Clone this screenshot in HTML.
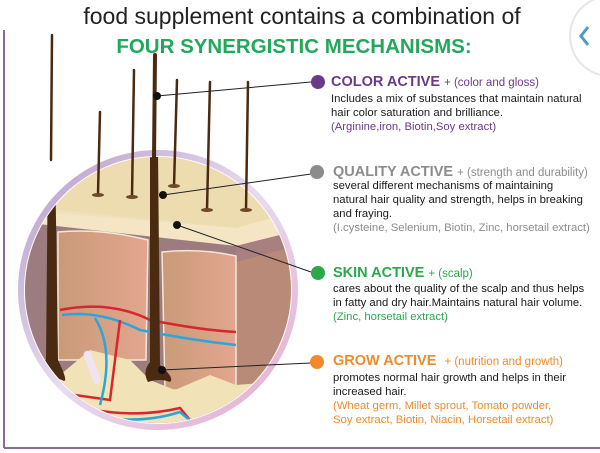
<!DOCTYPE html>
<html><head><meta charset="utf-8"><style>
body{margin:0;width:600px;height:453px;overflow:hidden;background:#fff;font-family:"Liberation Sans",sans-serif;position:relative}
.t{position:absolute;white-space:nowrap}
.b{font-size:11.3px;color:#1a1a1a;line-height:14px}
</style></head><body>
<svg width="600" height="453" style="position:absolute;left:0;top:0">
<defs>
<clipPath id="c"><circle cx="158" cy="290" r="133"/></clipPath>
<linearGradient id="rim" x1="0" y1="0" x2="1" y2="1"><stop offset="0" stop-color="#b79ac8"/><stop offset="0.5" stop-color="#e7dcef"/><stop offset="1" stop-color="#e6a9cf"/></linearGradient>
<linearGradient id="derm" x1="0" y1="0" x2="1" y2="0"><stop offset="0" stop-color="#c99a78"/><stop offset="1" stop-color="#e3a690"/></linearGradient>
</defs>
<line x1="4" y1="30" x2="4" y2="448" stroke="#8a6a9a" stroke-width="2"/>
<line x1="4" y1="448" x2="600" y2="448" stroke="#8a6a9a" stroke-width="2"/>
<circle cx="610" cy="36" r="40" fill="#fff" stroke="#e6e6e6" stroke-width="2"/>
<path d="M588 27 L581 36 L588 45" fill="none" stroke="#4a9cc0" stroke-width="3"/>
<circle cx="158" cy="290" r="140" fill="url(#rim)"/>
<circle cx="158" cy="290" r="134" fill="#fff"/>
<g clip-path="url(#c)">
<rect x="20" y="150" width="280" height="290" fill="#efe1b8"/>
<path d="M20 150 L300 150 L300 215 L236 228 L40 208 Z" fill="#eddcb0"/>
<path d="M20 210 L236 228 L300 210 L300 230 L236 246 L20 222 Z" fill="#f4e6c4"/>
<path d="M20 222 L236 246 L236 440 L20 440 Z" fill="#9d7c80"/>
<path d="M236 246 L300 230 L300 440 L236 440 Z" fill="#b98a78"/>
<path d="M236 246 L300 230 L300 245 L236 262 Z" fill="#a88080"/>
<path d="M58 232 Q100 228 148 240 L146 360 L58 360 Z" fill="url(#derm)" stroke="#f5e8d8" stroke-width="1.5"/>
<path d="M162 252 Q200 248 236 256 L236 390 L165 390 Z" fill="url(#derm)" stroke="#f5e8d8" stroke-width="1.5"/>
<path d="M20 380 L60 375 L90 350 L130 360 L150 380 L175 390 L210 375 L236 385 L300 380 L300 440 L20 440 Z" fill="#f2e2b8"/>
<path d="M60 310 Q110 300 150 320 Q200 330 236 332" fill="none" stroke="#d8262e" stroke-width="2.5"/>
<path d="M62 315 Q100 310 140 330 Q190 340 236 345" fill="none" stroke="#2aa6d8" stroke-width="2.5"/>
<path d="M120 320 L110 400 L75 395" fill="none" stroke="#d8262e" stroke-width="2.5"/>
<path d="M95 318 Q115 350 100 405" fill="none" stroke="#2aa6d8" stroke-width="2.5"/>
<path d="M70 405 Q130 420 180 408 Q190 420 200 432" fill="none" stroke="#d8262e" stroke-width="2.5"/>
<path d="M70 410 Q130 428 180 412 Q195 425 205 430" fill="none" stroke="#2aa6d8" stroke-width="2.5"/>
<path d="M48 150 L55 150 L58 360 Q70 385 62 380 Q50 375 42 380 Q38 370 46 360 Z" fill="#4a2a10"/>
<path d="M150 150 L158 150 L160 365 Q175 378 170 382 Q160 378 148 382 Q142 372 150 362 Z" fill="#4a2a10"/>
<rect x="88" y="350" width="8" height="35" rx="4" fill="#f0e4ee" transform="rotate(-20 92 367)"/>
</g>
<g stroke="#4a2a10" stroke-linecap="round">
<path d="M52 35 L51 160" stroke-width="2.5"/>
<path d="M155 55 L154 160" stroke-width="4"/>
<path d="M100 112 L98 194" stroke-width="2.5"/>
<path d="M134 70 L132 197" stroke-width="2.5"/>
<path d="M177 80 L174 186" stroke-width="2.5"/>
<path d="M210 82 L207 210" stroke-width="2.5"/>
<path d="M248 82 L246 210" stroke-width="2.5"/>
</g>
<g fill="#6e4a2a"><ellipse cx="98" cy="195" rx="6" ry="2"/><ellipse cx="132" cy="197" rx="6" ry="2"/><ellipse cx="174" cy="186" rx="6" ry="2"/><ellipse cx="207" cy="210" rx="6" ry="2"/><ellipse cx="246" cy="210" rx="6" ry="2"/></g>
<g stroke="#222" stroke-width="1"><line x1="157" y1="96" x2="311" y2="82"/><line x1="163" y1="195" x2="311" y2="174"/><line x1="177" y1="225" x2="311" y2="272"/><line x1="162" y1="370" x2="311" y2="363"/></g>
<g fill="#111"><circle cx="157" cy="96" r="4"/><circle cx="163" cy="195" r="4"/><circle cx="177" cy="225" r="4"/><circle cx="162" cy="370" r="4"/></g>
<circle cx="318" cy="82" r="7" fill="#6a3a8a"/>
<circle cx="317" cy="172" r="7" fill="#8c8c8c"/>
<circle cx="318" cy="273" r="7" fill="#2aa84a"/>
<circle cx="317" cy="362" r="7" fill="#f08a2a"/>
</svg>
<div class="t" style="left:0;width:604px;text-align:center;top:3px;font-size:23px;color:#222">food supplement contains a combination of</div>
<div class="t" style="left:0;width:588px;text-align:center;top:35px;font-size:20.5px;font-weight:bold;color:#22a85a">FOUR SYNERGISTIC MECHANISMS:</div>

<div class="t" style="left:331px;top:74px;font-size:14.5px;font-weight:bold;color:#6a3a8a">COLOR ACTIVE <span style="font-size:11.5px;font-weight:normal">+ (color and gloss)</span></div>
<div class="t b" style="left:331px;top:92px">Includes a mix of substances that maintain natural<br>hair color saturation and brilliance.<br><span style="color:#6a3a8a">(Arginine,iron, Biotin,Soy extract)</span></div>

<div class="t" style="left:333px;top:164px;font-size:14.5px;font-weight:bold;color:#8c8c8c">QUALITY ACTIVE <span style="font-size:11.5px;font-weight:normal">+ (strength and durability)</span></div>
<div class="t b" style="left:333px;top:179px">several different mechanisms of maintaining<br>natural hair quality and strength, helps in breaking<br>and fraying.<br><span style="color:#8c8c8c">(I.cysteine, Selenium, Biotin, Zinc, horsetail extract)</span></div>

<div class="t" style="left:333px;top:265px;font-size:14.5px;font-weight:bold;color:#2aa84a">SKIN ACTIVE <span style="font-size:11.5px;font-weight:normal">+ (scalp)</span></div>
<div class="t b" style="left:333px;top:282px">cares about the quality of the scalp and thus helps<br>in fatty and dry hair.Maintains natural hair volume.<br><span style="color:#2aa84a">(Zinc, horsetail extract)</span></div>

<div class="t" style="left:333px;top:353px;font-size:14.5px;font-weight:bold;color:#f08a2a">GROW ACTIVE &nbsp;<span style="font-size:11.5px;font-weight:normal">+ (nutrition and growth)</span></div>
<div class="t b" style="left:333px;top:371px">promotes normal hair growth and helps in their<br>increased hair.<br><span style="color:#f08a2a">(Wheat germ, Millet sprout, Tomato powder,<br>Soy extract, Biotin, Niacin, Horsetail extract)</span></div>
</body></html>
